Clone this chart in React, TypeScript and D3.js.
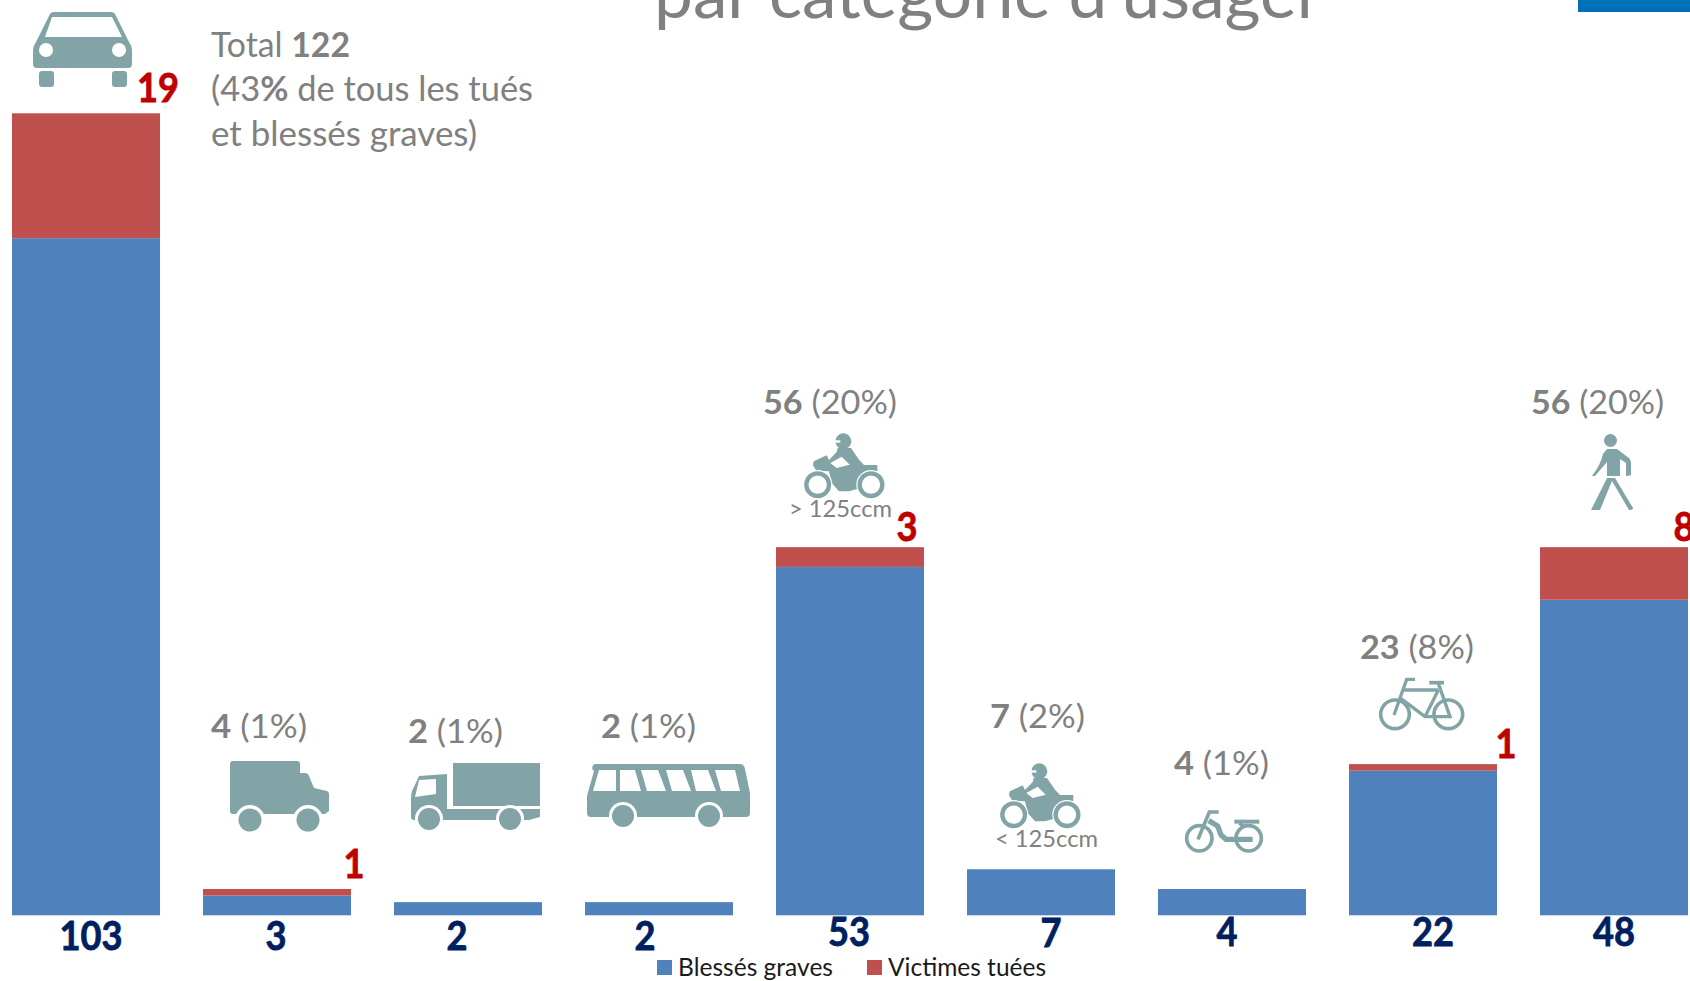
import React from "react";
import * as d3 from "d3";

const categories = ["Voiture", "Camionnette", "Camion", "Bus", "Moto >125", "Moto <125", "Cyclomoteur", "Vélo", "Piéton"];
const blesses = [103, 3, 2, 2, 53, 7, 4, 22, 48];
const tues = [19, 1, 0, 0, 3, 0, 0, 1, 8];
const totals = [122, 4, 2, 2, 56, 7, 4, 23, 56];
const shares = [43, 1, 1, 1, 20, 2, 1, 8, 20];

const W = 1690, H = 981;
const BLUE = "#4F81BD", RED = "#C0504D", ICON = "#82A4A6", GRAY = "#808080", NAVY = "#002060", DARKRED = "#C00000";
const FONT = "Lato, sans-serif";

// text placement (x-start, baseline, width) per category
const totalPlace: ([number, number, number] | null)[] = [null, [211, 738, 96], [408, 743, 95], [601, 738, 95], [763, 414, 134], [990, 728, 95], [1174, 775, 95], [1360, 659, 114], [1531, 414, 133]];
const bottomPlace: [number, number][] = [[91, 950], [276, 950], [457, 950], [645, 950], [849, 946], [1051, 947], [1227, 946], [1433, 946], [1614, 946]];
const redPlace: ([number, number] | null)[] = [[158, 102], [354, 878], null, null, [907, 541], null, null, [1506, 758], [1684, 541]];
const bottomWidth = 21;
const redWidth = 21;

const x = d3.scaleBand<string>().domain(categories).range([12, 1688]).paddingInner(0.225).paddingOuter(0);
const y = d3.scaleLinear().domain([0, 122]).range([915.3, 113.3]);

function Wheel({ cx, cy, r, halo = 15 }: any) {
  return <g><circle cx={cx} cy={cy} r={halo} fill="#fff" /><circle cx={cx} cy={cy} r={r} fill={ICON} /></g>;
}

function Car() {
  return (
    <g transform="translate(33,12)" fill={ICON}>
      <path fillRule="evenodd" d="M17 2 Q18 0 21 0 H78 Q81 0 82 2 L96 30 Q99 34 99 38 V52 Q99 56 95 56 H4 Q0 56 0 52 V38 Q0 34 3 30Z M19 5 L12 25 H89 L79 5Z" />
      <circle cx={13} cy={38} r={7} fill="#fff" />
      <circle cx={86} cy={38} r={7} fill="#fff" />
      <rect x={6} y={59} width={15} height={16} rx={3} />
      <rect x={79} y={59} width={15} height={16} rx={3} />
    </g>
  );
}
function Van() {
  return (
    <g transform="translate(230,761)" fill={ICON}>
      <path d="M3 0 H67 Q70 0 70 3 V12 H75 Q78 12 79 15 L84 27 L97 30 Q99 31 99 33 V50 L95 53 H3 Q0 53 0 50 V3 Q0 0 3 0Z" />
      <Wheel cx={20} cy={59} r={11.5} />
      <Wheel cx={78} cy={59} r={11.5} />
    </g>
  );
}
function Truck() {
  return (
    <g transform="translate(411,763)" fill={ICON}>
      <rect x={42} y={0} width={87} height={43} />
      <path fillRule="evenodd" d="M8 13 L36 11 V46 H129 V54 L118 57 H3 Q0 57 0 54 V36 Q0 28 3 24Z M8 17 L25 16 V31 L4 34Z" />
      <Wheel cx={18} cy={56} r={11} halo={14} />
      <Wheel cx={99} cy={56} r={11} halo={14} />
    </g>
  );
}
function Bus() {
  const windows = ["M12 7H29V28H6Z", "M33 7H48L54 28H33Z", "M54 7H71L79 28H60Z", "M79 7H96L104 28H85Z", "M104 7H121L129 28H109Z", "M128 7H148L153 28H134Z"];
  return (
    <g transform="translate(587,763)" fill={ICON}>
      <path d="M8 1 H153 Q157 1 158 6 L163 30 V50 Q163 54 159 54 H4 Q0 54 0 50 V33 L7 8 Q4 6 6 2Z" />
      {windows.map((d, i) => <path key={i} d={d} fill="#fff" />)}
      <Wheel cx={36} cy={53} r={11} halo={14} />
      <Wheel cx={122} cy={53} r={11} halo={14} />
    </g>
  );
}
function Moto({ ox, oy }: any) {
  return (
    <g transform={`translate(${ox},${oy}) scale(${1 / 3})`}>
      <path fill={ICON} d="M56 100 L95 82 L102 96 L125 72 L128 60 L168 60 L192 95 L207 111 L247 111 V130 L208 132 L198 148 L190 182 L162 190 L132 190 L110 165 L102 130 L64 128 L54 112Z" />
      <path fill="#fff" d="M106 105 L140 86 L164 110 L125 120Z" />
      <circle cx={145} cy={40} r={24} fill={ICON} />
      <rect x={120} y={37} width={16} height={7} fill="#fff" />
      <circle cx={68} cy={170} r={34} fill="#fff" stroke="#fff" strokeWidth={20} />
      <circle cx={228} cy={170} r={34} fill="#fff" stroke="#fff" strokeWidth={20} />
      <circle cx={68} cy={170} r={34} fill="#fff" stroke={ICON} strokeWidth={13} />
      <circle cx={228} cy={170} r={34} fill="#fff" stroke={ICON} strokeWidth={13} />
    </g>
  );
}
function Moped() {
  return (
    <g transform="translate(1176,800) scale(0.3333)" fill="none" stroke={ICON} strokeWidth={11}>
      <circle cx={70} cy={115} r={38} />
      <circle cx={218} cy={115} r={38} />
      <path d="M128 36 H100 L66 118" />
      <path d="M98 62 L125 78 L135 105 L150 118 H230" strokeWidth={16} />
      <path d="M175 65 H250" strokeWidth={12} />
      <path d="M190 70 L205 80" />
    </g>
  );
}
function Bike() {
  return (
    <g transform="translate(1370,670) scale(0.3333)" fill="none" stroke={ICON} strokeWidth={10}>
      <circle cx={75} cy={133} r={43} strokeWidth={11} />
      <circle cx={235} cy={133} r={43} strokeWidth={11} />
      <path d="M135 28 H110 L72 135" />
      <path d="M100 60 H205" />
      <path d="M92 85 L165 140 H240 L205 40" />
      <path d="M165 140 L205 60" />
      <path d="M178 38 H222" strokeWidth={11} />
    </g>
  );
}
function Pedestrian() {
  return (
    <g transform="translate(1591,434)" fill={ICON}>
      <circle cx={19.5} cy={6.5} r={6.5} />
      <path d="M16 15 H26 L38 24 Q40 26 40 29 V41 Q38 42 35 42 L35 29 L29 25 V42 H16 V28 L4 42 H1 Q10 30 12 20Z" />
      <path d="M16 44 H24 L42 74 Q42 76 38 76 L21 47 L9 76 H0Z" />
    </g>
  );
}

function Fitted({ x: tx, y: ty, w, size, fill, weight = 400, stroke, children }: any) {
  return (
    <text x={tx} y={ty} textLength={w} lengthAdjust="spacingAndGlyphs" fontFamily={FONT} fontSize={size} fontWeight={weight} fill={fill} stroke={stroke} strokeWidth={stroke ? 0.8 : undefined}>
      {children}
    </text>
  );
}

// Numbers are centred on a point and squeezed to the narrow proportions of the reference's figures.
function Figure({ value, cx, cy, perDigit, fill }: any) {
  const w = String(value).length * perDigit;
  return <Fitted x={cx - w / 2} y={cy} w={w} size={40} weight={700} fill={fill} stroke={fill}>{value}</Fitted>;
}

export default function App() {
  return (
    <svg width={W} height={H} viewBox={`0 0 ${W} ${H}`} style={{ position: "absolute", left: 0, top: 0, display: "block" }}>
      <rect width={W} height={H} fill="#fff" />
      <Fitted x={654} y={18} w={668} size={68} fill={GRAY}>par catégorie d'usager</Fitted>
      <rect x={1578} y={0} width={112} height={12} fill="#0070B8" />

      {categories.map((c, i) => (
        <g key={c}>
          <rect x={x(c)} y={y(blesses[i])} width={x.bandwidth()} height={y(0) - y(blesses[i])} fill={BLUE} />
          {tues[i] > 0 && (
            <rect x={x(c)} y={y(blesses[i] + tues[i])} width={x.bandwidth()} height={y(blesses[i]) - y(blesses[i] + tues[i])} fill={RED} />
          )}
          <Figure value={blesses[i]} cx={bottomPlace[i][0]} cy={bottomPlace[i][1]} perDigit={bottomWidth} fill={NAVY} />
          {tues[i] > 0 && redPlace[i] && (
            <Figure value={tues[i]} cx={redPlace[i]![0]} cy={redPlace[i]![1]} perDigit={redWidth} fill={DARKRED} />
          )}
          {totalPlace[i] && (
            <Fitted x={totalPlace[i]![0]} y={totalPlace[i]![1]} w={totalPlace[i]![2]} size={33} fill={GRAY}>
              <tspan fontWeight={700}>{totals[i]}</tspan> ({shares[i]}%)
            </Fitted>
          )}
        </g>
      ))}

      <Fitted x={211} y={57} w={139} size={35} fill={GRAY}>Total <tspan fontWeight={700}>{totals[0]}</tspan></Fitted>
      <Fitted x={211} y={101} w={322} size={35} fill={GRAY}>({shares[0]}<tspan fontWeight={700}>%</tspan> de tous les tués</Fitted>
      <Fitted x={211} y={146} w={266} size={35} fill={GRAY}>et blessés graves)</Fitted>

      <Car /><Van /><Truck /><Bus />
      <Moto ox={795} oy={428} />
      <Moto ox={991} oy={758} />
      <Moped /><Bike /><Pedestrian />

      <Fitted x={789} y={517} w={103} size={24} fill={GRAY}>&gt; 125ccm</Fitted>
      <Fitted x={995} y={847} w={103} size={24} fill={GRAY}>&lt; 125ccm</Fitted>

      <rect x={657} y={960} width={15} height={15} fill={BLUE} />
      <Fitted x={678} y={976} w={155} size={25} fill="#1a1a1a">Blessés graves</Fitted>
      <rect x={867} y={960} width={15} height={15} fill={RED} />
      <Fitted x={888} y={976} w={158} size={25} fill="#1a1a1a">Victimes tuées</Fitted>
    </svg>
  );
}
